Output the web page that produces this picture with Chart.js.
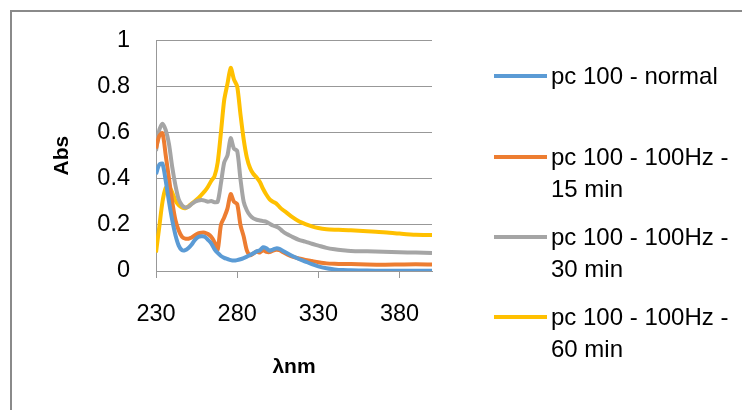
<!DOCTYPE html>
<html>
<head>
<meta charset="utf-8">
<script src="https://cdn.jsdelivr.net/npm/chart.js@4/dist/chart.umd.min.js"></script>
<style>
  html, body { margin: 0; padding: 0; background: #fff; }
  #wrap { position: relative; width: 742px; height: 410px; overflow: hidden; }
  #frame { position: absolute; left: 10px; top: 10px; width: 800px; height: 500px; border: 2px solid #8a8a8a; box-sizing: border-box; }
  canvas { position: absolute; left: 0; top: 0; }
</style>
</head>
<body>
<div id="wrap">
  <div id="frame"></div>
  <canvas id="c" width="742" height="410"></canvas>
</div>
<script>
// ---- data ----
const wavelengths = [230,232,234,236,238,240,242,244,246,248,250,252,254,256,258,260,262,264,266,268,270,272,274,276,278,280,282,284,286,288,290,292,294,296,298,300,302,304,306,308,310,314,318,322,326,330,335,340,345,350,360,370,380,390,400];
const normal = [0.42,0.46,0.465,0.39,0.30,0.22,0.155,0.11,0.09,0.09,0.10,0.115,0.135,0.147,0.15,0.148,0.135,0.12,0.095,0.078,0.065,0.057,0.052,0.047,0.045,0.047,0.051,0.056,0.062,0.069,0.077,0.085,0.09,0.103,0.098,0.088,0.093,0.098,0.096,0.088,0.08,0.065,0.052,0.041,0.03,0.02,0.012,0.007,0.004,0.003,0.002,0.001,0.001,0.001,0.001];
const hz15 = [0.53,0.585,0.597,0.5,0.40,0.30,0.22,0.175,0.148,0.14,0.14,0.145,0.155,0.163,0.166,0.166,0.16,0.148,0.125,0.093,0.2,0.232,0.27,0.333,0.30,0.29,0.20,0.15,0.088,0.068,0.076,0.084,0.08,0.09,0.083,0.082,0.088,0.092,0.09,0.082,0.075,0.062,0.054,0.048,0.043,0.038,0.033,0.031,0.03,0.03,0.028,0.027,0.028,0.029,0.028];
const hz30 = [0.52,0.61,0.638,0.61,0.55,0.45,0.37,0.31,0.285,0.275,0.278,0.29,0.30,0.305,0.307,0.305,0.30,0.303,0.298,0.30,0.38,0.47,0.50,0.575,0.53,0.52,0.40,0.30,0.262,0.24,0.228,0.222,0.219,0.216,0.213,0.205,0.197,0.192,0.185,0.172,0.162,0.148,0.135,0.127,0.118,0.11,0.10,0.094,0.09,0.087,0.085,0.083,0.081,0.08,0.078];
const hz60 = [0.08,0.19,0.30,0.36,0.366,0.34,0.305,0.285,0.275,0.272,0.28,0.292,0.303,0.315,0.33,0.345,0.365,0.39,0.41,0.47,0.60,0.74,0.81,0.88,0.83,0.80,0.68,0.57,0.49,0.445,0.42,0.405,0.385,0.355,0.33,0.31,0.30,0.293,0.278,0.265,0.255,0.233,0.215,0.203,0.193,0.186,0.181,0.179,0.178,0.176,0.172,0.168,0.162,0.157,0.156];
const seriesLabels = [['pc 100 - normal'], ['pc 100 - 100Hz -', '15 min'], ['pc 100 - 100Hz -', '30 min'], ['pc 100 - 100Hz -', '60 min']];
const seriesColors = ['#5B9BD5', '#ED7D31', '#A5A5A5', '#FFC000'];
const xTicks = [230, 280, 330, 380];
const yTicks = [0, 0.2, 0.4, 0.6, 0.8, 1];

const seriesValues = [normal, hz15, hz30, hz60];
const FONT = '"Liberation Sans", Arial, sans-serif';

const legendPlugin = {
  id: 'sideLegend',
  afterDraw(chart) {
    const ctx = chart.ctx;
    const rowTops = [76, 157, 237, 317];
    const lineGap = 32;
    ctx.save();
    ctx.font = '24px ' + FONT;
    ctx.textBaseline = 'middle';
    ctx.textAlign = 'left';
    chart.data.datasets.forEach((ds, i) => {
      const y0 = rowTops[i];
      ctx.strokeStyle = ds.borderColor;
      ctx.lineWidth = 4;
      ctx.beginPath();
      ctx.moveTo(494, y0);
      ctx.lineTo(547, y0);
      ctx.stroke();
      ctx.fillStyle = '#000';
      seriesLabels[i].forEach((t, k) => ctx.fillText(t, 551, y0 + k * lineGap + 1));
    });
    ctx.restore();
  }
};

new Chart(document.getElementById('c'), {
  type: 'line',
  data: {
    datasets: seriesValues.map((vals, i) => ({
      label: seriesLabels[i].join(' '),
      data: wavelengths.map((w, k) => ({ x: w, y: vals[k] })),
      borderColor: seriesColors[i],
      backgroundColor: seriesColors[i],
      borderWidth: 4,
      pointRadius: 0,
      tension: 0.25,
      fill: false
    }))
  },
  options: {
    responsive: false,
    animation: false,
    events: [],
    layout: { padding: { left: 40, right: 310, top: 40, bottom: 30 } },
    plugins: { legend: { display: false }, tooltip: { enabled: false } },
    scales: {
      x: {
        type: 'linear',
        min: 230,
        max: 400,
        afterBuildTicks: (s) => { s.ticks = xTicks.map(v => ({ value: v })); },
        afterFit: (s) => { s.height = (410 - 30) - 271; },
        grid: { drawOnChartArea: false, drawTicks: true, tickLength: 7, color: '#989898' },
        border: { color: '#989898', width: 1 },
        ticks: { color: '#000', font: { family: FONT, size: 23.5 }, padding: 22, maxRotation: 0 },
        title: { display: true, text: 'λnm', color: '#000', font: { family: FONT, size: 21, weight: 'bold' }, padding: { top: 0, bottom: 0 } }
      },
      y: {
        min: 0,
        max: 1,
        afterBuildTicks: (s) => { s.ticks = yTicks.map(v => ({ value: v })); },
        afterFit: (s) => { s.width = 156 - 40; },
        grid: { drawTicks: false, color: '#989898', lineWidth: 1 },
        border: { color: '#989898', width: 1 },
        ticks: { color: '#000', font: { family: FONT, size: 23.5 }, padding: 26, callback: (v) => String(v) },
        title: { display: true, text: 'Abs', color: '#000', font: { family: FONT, size: 21, weight: 'bold' }, padding: { top: 10, bottom: 0 } }
      }
    }
  },
  plugins: [legendPlugin]
});
</script>
</body>
</html>
